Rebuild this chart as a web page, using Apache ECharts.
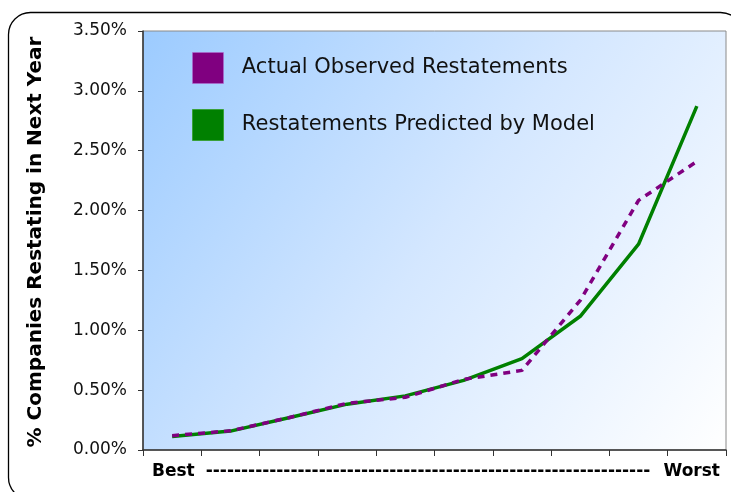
<!DOCTYPE html>
<html>
<head>
<meta charset="utf-8">
<script src="https://cdn.jsdelivr.net/npm/echarts@6/dist/echarts.min.js"></script>
<style>
  html, body { margin: 0; padding: 0; background: #fff; }
  #chart { width: 731px; height: 492px; }
</style>
</head>
<body>
<div id="chart"></div>
<script>
// Risk deciles, from lowest-risk (Best) to highest-risk (Worst)
const deciles = ['1', '2', '3', '4', '5', '6', '7', '8', '9', '10'];
// Share of companies restating in the following year, in percent
const actualRestated = [0.12, 0.16, 0.27, 0.39, 0.44, 0.59, 0.665, 1.25, 2.085, 2.41];
const modelPredicted = [0.113, 0.158, 0.27, 0.383, 0.452, 0.582, 0.763, 1.117, 1.719, 2.873];
// Y axis range and step, in percent
const yMin = 0, yMax = 3.5, yStep = 0.5;

const FONT = '"DejaVu Sans", Verdana, sans-serif';
const chart = echarts.init(document.getElementById('chart'), null, { renderer: 'canvas' });

const dashes = '-'.repeat(63);

chart.setOption({
  animation: false,
  backgroundColor: '#ffffff',
  grid: {
    left: 143, right: 5, top: 31, bottom: 42,
    show: true,
    borderColor: '#8a8a8a',
    borderWidth: 1,
    backgroundColor: new echarts.graphic.LinearGradient(0, 0, 1, 1, [
      { offset: 0, color: '#9ccbff' },
      { offset: 0.5, color: '#d4e7ff' },
      { offset: 1, color: '#ffffff' }
    ])
  },
  legend: {
    left: 192, top: 52,
    padding: 0,
    orient: 'vertical',
    itemWidth: 31, itemHeight: 31, itemGap: 25,
    selectedMode: false,
    formatter: name => '  ' + name,
    textStyle: { fontFamily: FONT, fontSize: 21, color: '#111' },
    data: [
      { name: 'Actual Observed Restatements', icon: 'rect',
        itemStyle: { color: '#800080', borderColor: '#b36bd0', borderWidth: 1, borderType: 'dotted' } },
      { name: 'Restatements Predicted by Model', icon: 'rect',
        itemStyle: { color: '#008000', borderColor: '#3aa03a', borderWidth: 1 } }
    ]
  },
  xAxis: {
    type: 'category',
    data: deciles,
    boundaryGap: true,
    axisLine: { lineStyle: { color: '#333', width: 1.5 } },
    axisTick: { show: true, length: 6, lineStyle: { color: '#333' } },
    axisLabel: { show: false },
    splitLine: { show: false }
  },
  yAxis: {
    type: 'value',
    min: yMin, max: yMax, interval: yStep,
    axisLine: { show: true, lineStyle: { color: '#333', width: 1.5 } },
    axisTick: { show: true, length: 5, lineStyle: { color: '#333' } },
    splitLine: { show: false },
    axisLabel: {
      margin: 16,
      fontFamily: FONT, fontSize: 17, color: '#111',
      formatter: v => v.toFixed(2) + '%'
    }
  },
  series: [
    {
      name: 'Actual Observed Restatements',
      type: 'line',
      data: actualRestated,
      symbol: 'none',
      z: 3,
      itemStyle: { color: '#800080' },
      lineStyle: { color: '#800080', width: 3.5, type: [7, 6] }
    },
    {
      name: 'Restatements Predicted by Model',
      type: 'line',
      data: modelPredicted,
      symbol: 'none',
      z: 2,
      itemStyle: { color: '#008000' },
      lineStyle: { color: '#008000', width: 3.5 }
    }
  ],
  graphic: [
    {
      type: 'rect', silent: true, z: 0,
      shape: { x: 8.5, y: 12.5, width: 734, height: 487, r: 22 },
      style: { fill: null, stroke: '#000', lineWidth: 1.3 }
    },
    {
      type: 'text', x: 36, y: 242, rotation: Math.PI / 2,
      style: {
        text: '% Companies Restating in Next Year',
        fontFamily: FONT, fontSize: 20, fontWeight: 'bold', fill: '#000',
        align: 'center', verticalAlign: 'middle'
      }
    },
    {
      type: 'text', x: 152, y: 472,
      style: { text: 'Best', fontFamily: FONT, fontSize: 17, fontWeight: 'bold', fill: '#000',
        align: 'left', verticalAlign: 'middle' }
    },
    {
      type: 'text', x: 428, y: 472,
      style: { text: dashes, fontFamily: FONT, fontSize: 17, fontWeight: 'bold', fill: '#000',
        align: 'center', verticalAlign: 'middle' }
    },
    {
      type: 'text', x: 720, y: 472,
      style: { text: 'Worst', fontFamily: FONT, fontSize: 17, fontWeight: 'bold', fill: '#000',
        align: 'right', verticalAlign: 'middle' }
    }
  ]
});
</script>
</body>
</html>
